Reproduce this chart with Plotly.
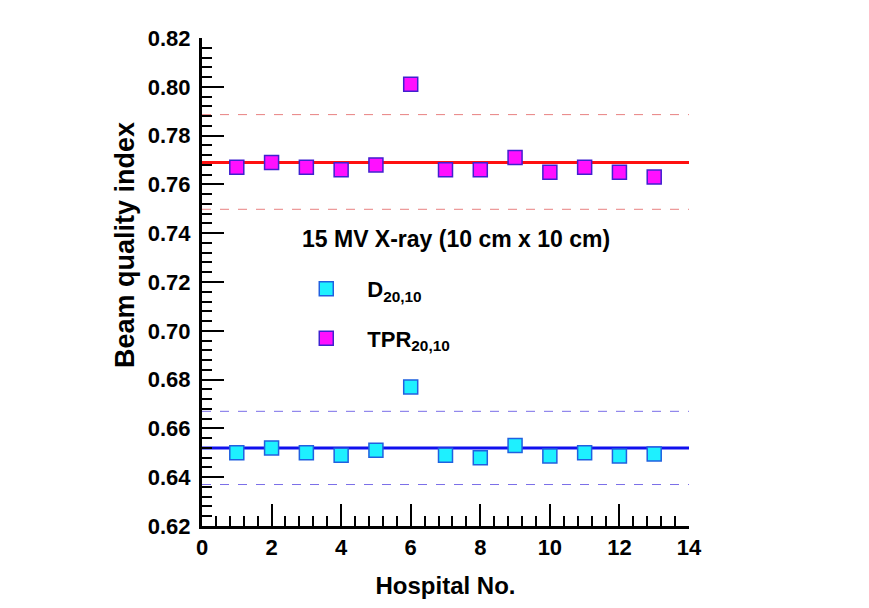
import plotly.graph_objects as go

hospital = list(range(1, 14))
d2010 = [0.650, 0.652, 0.650, 0.649, 0.651, 0.677, 0.649, 0.648, 0.653, 0.6487, 0.650, 0.6487, 0.6495]
tpr2010 = [0.767, 0.769, 0.767, 0.766, 0.768, 0.801, 0.766, 0.766, 0.771, 0.765, 0.767, 0.765, 0.763]

d_mean, d_low, d_high = 0.652, 0.637, 0.667
tpr_mean, tpr_low, tpr_high = 0.769, 0.7498, 0.7886
x_span = [0, 14]

FONT = "Liberation Sans, Arial, sans-serif"

fig = go.Figure()

for val, col, w, dash in [(tpr_high, "#E88080", 1, "dash"), (tpr_low, "#E88080", 1, "dash"),
                          (tpr_mean, "#FF1010", 3, "solid"),
                          (d_high, "#7A6EE8", 1, "dash"), (d_low, "#7A6EE8", 1, "dash"),
                          (d_mean, "#1010EE", 3, "solid")]:
    fig.add_trace(go.Scatter(x=x_span, y=[val, val], mode="lines",
                             line=dict(color=col, width=w, dash=dash),
                             showlegend=False, hoverinfo="skip"))

fig.add_trace(go.Scatter(x=hospital, y=d2010, mode="markers", name="D<sub>20,10</sub>",
                         legendgroup="d",
                         marker=dict(symbol="square", size=14, color="#1EF0FF",
                                     line=dict(color="#2060E0", width=1.5))))
fig.add_trace(go.Scatter(x=hospital, y=tpr2010, mode="markers", name="TPR<sub>20,10</sub>",
                         legendgroup="t",
                         marker=dict(symbol="square", size=14, color="#FF10FF",
                                     line=dict(color="#4020D0", width=1.5))))

fig.add_annotation(x=0.522, y=0.588, xref="paper", yref="paper",
                   xanchor="center", yanchor="middle",
                   text="15 MV X-ray (10 cm x 10 cm)", showarrow=False,
                   font=dict(family=FONT, size=23, color="black", weight="bold"))

fig.add_annotation(x=-0.158, y=0.576, xref="paper", yref="paper", textangle=-90,
                   xanchor="center", yanchor="middle",
                   text="Beam quality index", showarrow=False,
                   font=dict(family=FONT, size=27, color="black", weight="bold"))

tickfont = dict(family=FONT, size=22, color="black", weight="bold")
axis_common = dict(showline=True, linecolor="black", linewidth=3, ticks="inside",
                   tickcolor="black", tickwidth=2, ticklen=22, showgrid=False,
                   zeroline=False, mirror=False, tickfont=tickfont)

fig.update_xaxes(range=[0, 14], dtick=2, tick0=0,
                 minor=dict(dtick=0.4, ticks="inside", ticklen=10, tickwidth=1.5, tickcolor="black"),
                 title=dict(text="Hospital No.", font=dict(family=FONT, size=24, color="black", weight="bold"), standoff=18),
                 **axis_common)
fig.update_yaxes(range=[0.62, 0.82], dtick=0.02, tick0=0.62, tickformat=".2f",
                 minor=dict(dtick=0.004, ticks="inside", ticklen=10, tickwidth=1.5, tickcolor="black"),
                 ticklabelstandoff=4,
                 **axis_common)

fig.update_layout(
    width=869, height=608,
    margin=dict(l=202, r=180, t=38, b=82),
    paper_bgcolor="white", plot_bgcolor="white",
    font=dict(family=FONT, color="black"),
    legend=dict(x=0.171, y=0.529, xanchor="left", yanchor="top",
                bgcolor="rgba(0,0,0,0)", font=dict(family=FONT, size=22, color="black", weight="bold"),
                tracegroupgap=18, itemwidth=72),
    showlegend=True,
)

fig.write_html("out.html")
